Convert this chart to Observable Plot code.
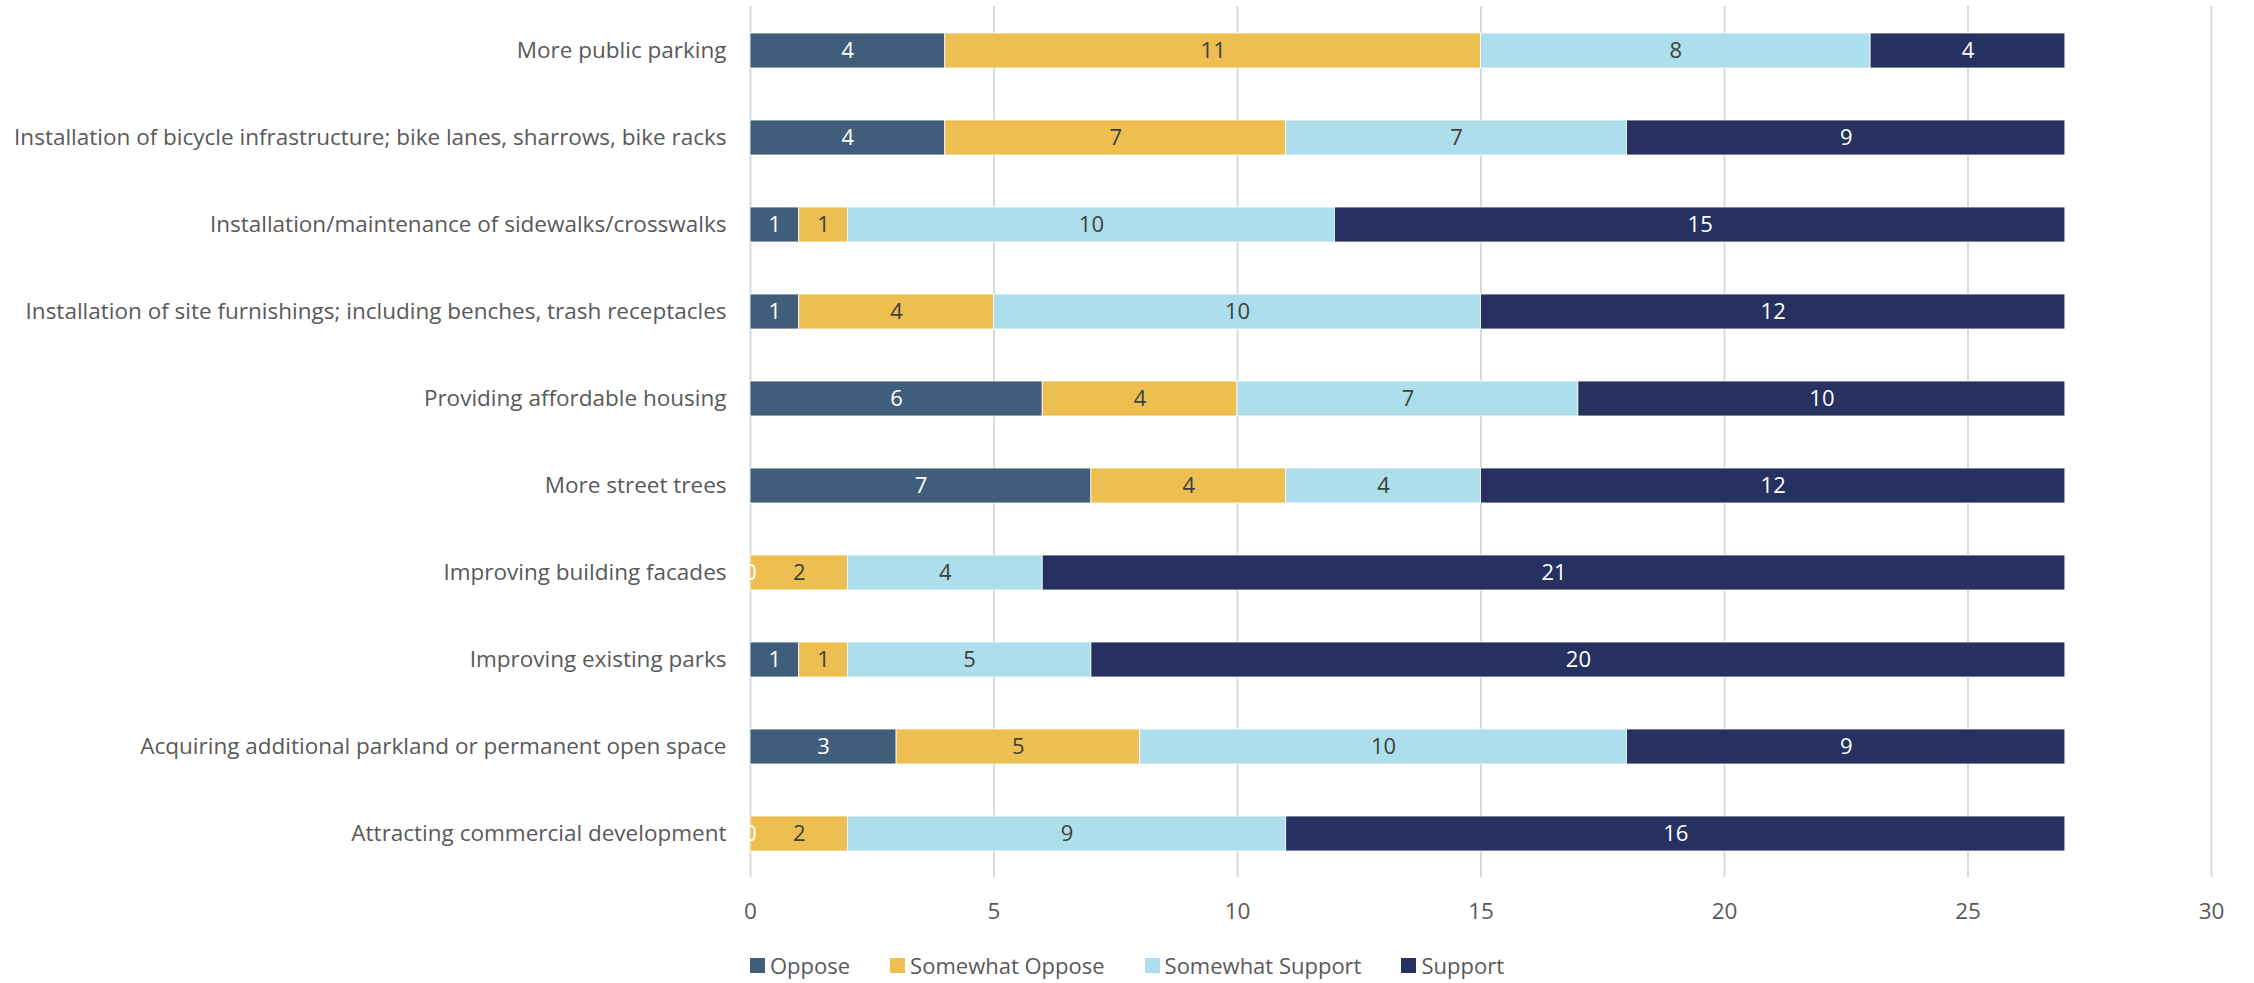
<!DOCTYPE html>
<html>
<head>
<meta charset="utf-8">
<script src="https://cdn.jsdelivr.net/npm/d3@7"></script>
<script src="https://cdn.jsdelivr.net/npm/@observablehq/plot@0.6"></script>
<style>
  html, body { margin: 0; padding: 0; background: #fff; }
  body { width: 2254px; font-family: "Open Sans", sans-serif; }
  #legend { display: flex; justify-content: center; gap: 40px; font-size: 22px; color: #595959; margin-top: 15px; }
  #legend .item { display: flex; align-items: center; gap: 5px; }
  #legend .sw { width: 15px; height: 15px; display: inline-block; }
</style>
</head>
<body>
<div id="chart"></div>
<div id="legend"></div>
<script>
const categories = [
  "More public parking",
  "Installation of bicycle infrastructure; bike lanes, sharrows, bike racks",
  "Installation/maintenance of sidewalks/crosswalks",
  "Installation of site furnishings; including benches, trash receptacles",
  "Providing affordable housing",
  "More street trees",
  "Improving building facades",
  "Improving existing parks",
  "Acquiring additional parkland or permanent open space",
  "Attracting commercial development"
];
const seriesNames = ["Oppose", "Somewhat Oppose", "Somewhat Support", "Support"];
const oppose          = [4, 4, 1, 1, 6, 7, 0, 1, 3, 0];
const somewhatOppose  = [11, 7, 1, 4, 4, 4, 2, 1, 5, 2];
const somewhatSupport = [8, 7, 10, 10, 7, 4, 4, 5, 10, 9];
const support         = [4, 9, 15, 12, 10, 12, 21, 20, 9, 16];
const xTicks = [0, 5, 10, 15, 20, 25, 30];
const colors = ["#405E7B", "#EDBE50", "#ACDFEB", "#263162"];
const labelColors = ["#ffffff", "#404040", "#404040", "#ffffff"];

const seriesValues = [oppose, somewhatOppose, somewhatSupport, support];
const data = [];
categories.forEach((c, i) => {
  seriesNames.forEach((s, j) => {
    data.push({cat: c, series: s, value: seriesValues[j][i]});
  });
});

const chart = Plot.plot({
  width: 2254,
  height: 935,
  marginLeft: 750,
  marginRight: 43,
  marginTop: 6,
  marginBottom: 58,
  style: {fontFamily: "'Open Sans', sans-serif", fontSize: "22.5px", color: "#595959", background: "#fff"},
  x: {domain: [0, 30], ticks: xTicks, grid: false, label: null, tickSize: 0, tickPadding: 26},
  y: {domain: categories, paddingInner: 0.6, paddingOuter: 0.3, label: null, tickSize: 0, tickPadding: 24},
  color: {domain: seriesNames, range: colors},
  marks: [
    Plot.ruleX(xTicks, {stroke: "#d9d9d9", strokeWidth: 2}),
    Plot.barX(data, Plot.stackX({x: "value", y: "cat", z: "series", fill: "series", order: seriesNames, stroke: "#ffffff", strokeWidth: 0.8})),
    Plot.text(data, Plot.stackX({
      x: "value", y: "cat", z: "series", order: seriesNames, text: d => String(d.value),
      fill: d => labelColors[seriesNames.indexOf(d.series)], fontSize: 22
    }))
  ]
});
document.getElementById("chart").appendChild(chart);

const legend = document.getElementById("legend");
seriesNames.forEach((s, i) => {
  const item = document.createElement("div");
  item.className = "item";
  const sw = document.createElement("span");
  sw.className = "sw";
  sw.style.background = colors[i];
  const t = document.createElement("span");
  t.textContent = s;
  item.appendChild(sw);
  item.appendChild(t);
  legend.appendChild(item);
});
</script>
</body>
</html>
